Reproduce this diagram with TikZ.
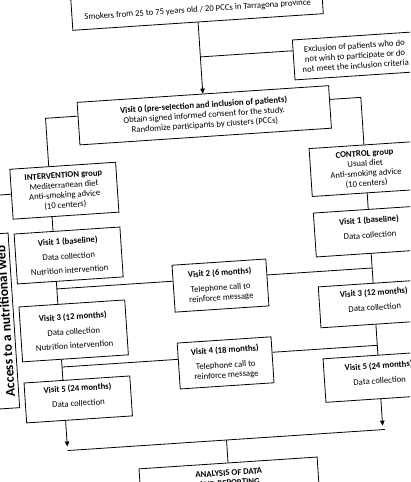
\documentclass[tikz,border=0pt]{standalone}
\usepackage{fontspec}
\setmainfont{Carlito}
\usetikzlibrary{arrows.meta}
\newcommand{\fsz}{\fontsize{8.7}{10}\selectfont}
\begin{document}
\begin{tikzpicture}[x=1pt,y=1pt,
  bx/.style={draw, line width=0.8pt, align=center, inner sep=1pt, font=\fsz},
  ln/.style={line width=0.8pt},
  arr/.style={line width=0.8pt, -{Triangle[length=5pt,width=4.5pt]}}]
\useasboundingbox (-205,-241) rectangle (205,241);
\clip (-205,-241) rectangle (205,241);
\begin{scope}[rotate=3.8, transform shape]
% boxes
\node[bx, minimum width=251pt, minimum height=44pt] (top) at (7.6,241) {};
\node[font=\fsz, inner sep=0pt] (toptext) at (8,231) {Smokers from 25 to 75 years old / 20 PCCs in Tarragona province};
\node[bx, minimum width=252pt, minimum height=42.6pt] (v0) at (7.6,125.5)
  {\textbf{Visit 0 (pre-selection and inclusion of patients)}\\Obtain signed informed consent for the study.\\Randomize participants by clusters (PCCs)};
\node[bx, minimum width=123pt, minimum height=40pt] (excl) at (162,174.8)
  {Exclusion of patients who do\\not wish to participate or do\\not meet the inclusion criteria};
\node[bx, minimum width=106pt, minimum height=50pt] (int) at (-137,59.5)
  {\textbf{INTERVENTION group}\\Mediterranean diet\\Anti-smoking advice\\(10 centers)};
\node[bx, minimum width=110pt, minimum height=48pt] (ctl) at (165,61.3)
  {\textbf{CONTROL group}\\Usual diet\\Anti-smoking advice\\(10 centers)};
\node[bx, minimum width=106pt, minimum height=50pt] (v1L) at (-137,-5.4)
  {\textbf{Visit 1 (baseline)}\\[5pt]Data collection\\[4pt]Nutrition intervention};
\node[bx, minimum width=110pt, minimum height=44pt] (v1R) at (165,-1.3)
  {\textbf{Visit 1 (baseline)}\\[5pt]Data collection\\[-2pt]\mbox{}};
\node[bx, minimum width=94pt, minimum height=47pt] (v2) at (12.5,-45.5)
  {\textbf{Visit 2 (6 months)}\\[5pt]Telephone call to\\reinforce message};
\node[bx, minimum width=106pt, minimum height=55pt] (v3L) at (-137,-81)
  {\textbf{Visit 3 (12 months)}\\[5pt]Data collection\\[4pt]Nutrition intervention};
\node[bx, minimum width=110pt, minimum height=41pt] (v3R) at (165,-73.8)
  {\textbf{Visit 3 (12 months)}\\[5pt]Data collection\\[-2pt]\mbox{}};
\node[bx, minimum width=94pt, minimum height=46pt] (v4) at (12.5,-123)
  {\textbf{Visit 4 (18 months)}\\[5pt]Telephone call to\\reinforce message};
\node[bx, minimum width=106pt, minimum height=40pt] (v5L) at (-137,-149.7)
  {\textbf{Visit 5 (24 months)}\\[5pt]Data collection\\[-2pt]\mbox{}};
\node[bx, minimum width=110pt, minimum height=43.6pt] (v5R) at (165,-147.2)
  {\textbf{Visit 5 (24 months)}\\[5pt]Data collection\\[-2pt]\mbox{}};
\node[bx, minimum width=178.5pt, minimum height=30pt] (ana) at (8.3,-238)
  {\textbf{ANALYSIS OF DATA}\\\textbf{AND REPORTING}};
\node[draw, line width=0.8pt, minimum width=44pt, minimum height=175pt] (lbox) at (-218,-66.5) {};
\node[font=\fontsize{13.5}{16}\selectfont\bfseries, rotate=90, anchor=west, inner sep=0pt] (ltext) at (-204.5,-142.5) {Access to a nutritional web};
% junctions
\coordinate (ej) at (7.6,184);
\coordinate (c1) at (-151,133);
\coordinate (c2) at (165,133);
\coordinate (j2) at (-151,-38);
\coordinate (j3) at (165,-38);
\coordinate (j4) at (-151,-116.3);
\coordinate (j5) at (165,-115.5);
\coordinate (a1) at (-151,-196);
\coordinate (a2) at (165,-196);
\coordinate (b1) at (-151,-200);
\coordinate (b2) at (167,-200);
\coordinate (b3) at (8.3,-200);
\coordinate (lfree) at (-245,59.5);
% connectors
\draw[arr] (top.south) -- (v0.north);
\draw[ln] (ej) -- ([yshift=9.2pt]excl.west);
\draw[ln] ([yshift=7.5pt]v0.west) -- (c1) -- ([xshift=-14pt]int.north);
\draw[ln] ([yshift=7.5pt]v0.east) -- (c2) -- (ctl.north);
\draw[ln] (int.west) -- (lfree);
\draw[ln] ([xshift=-14pt]int.south) -- ([xshift=-14pt]v1L.north);
\draw[ln] ([xshift=-14pt]v1L.south) -- ([xshift=-14pt]v3L.north);
\draw[ln] (j2) -- ([yshift=7.5pt]v2.west);
\draw[ln] ([yshift=7.5pt]v2.east) -- (j3);
\draw[ln] (ctl.south) -- (v1R.north);
\draw[ln] (v1R.south) -- (v3R.north);
\draw[ln] ([xshift=-14pt]v3L.south) -- ([xshift=-14pt]v5L.north);
\draw[ln] (j4) -- ([yshift=6.7pt]v4.west);
\draw[ln] ([yshift=7.5pt]v4.east) -- (j5);
\draw[ln] (v3R.south) -- (v5R.north);
\draw[arr] ([xshift=-14pt]v5L.south) -- (a1);
\draw[arr] (v5R.south) -- (a2);
\draw[ln] (b1) -- (b2);
\draw[ln] (b3) -- (ana.north);
\end{scope}
\end{tikzpicture}
\end{document}
